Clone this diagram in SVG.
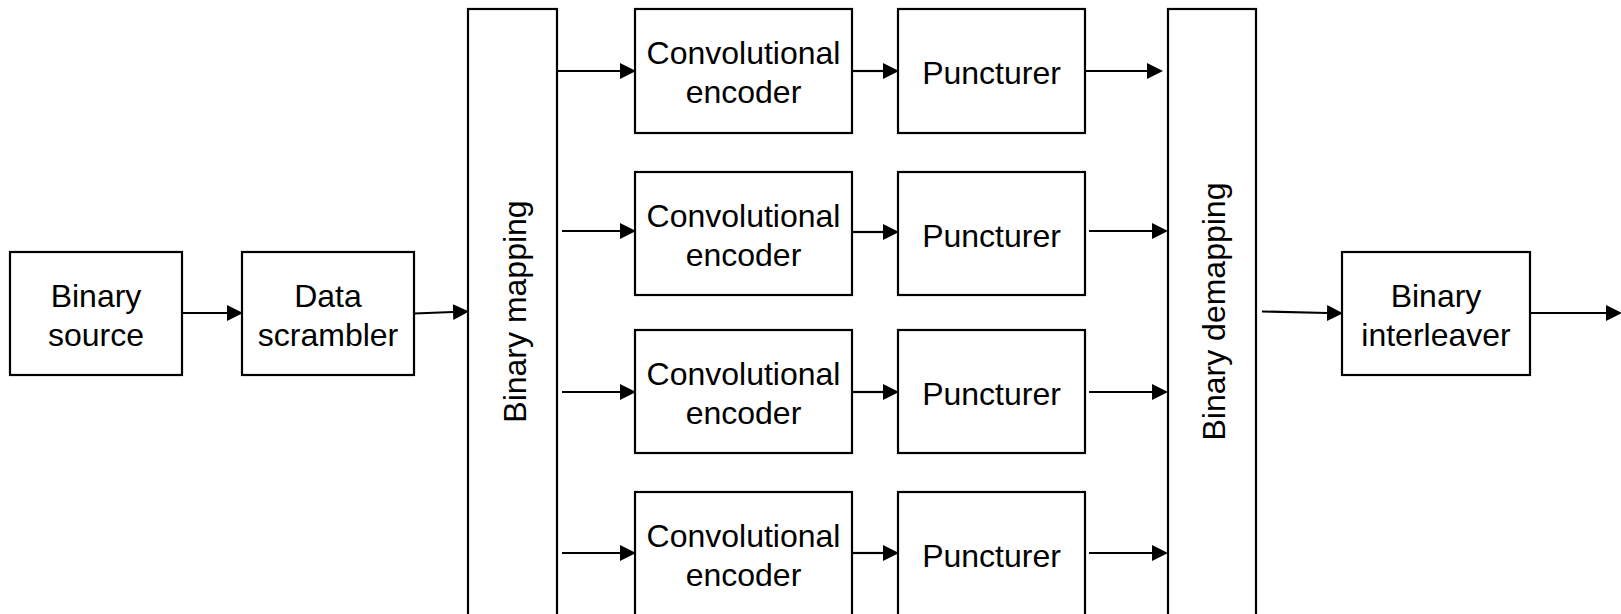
<svg xmlns="http://www.w3.org/2000/svg" width="1621" height="614" viewBox="0 0 1621 614">
<style>
.box{fill:#fff;stroke:#000;stroke-width:2.2}
.lbl{font-family:"Liberation Sans",Arial,sans-serif;font-size:32px;fill:#000;text-anchor:middle}
.cn{stroke:#000;stroke-width:2.2;fill:none;marker-end:url(#ah)}
</style>
<defs>
<marker id="ah" markerUnits="userSpaceOnUse" markerWidth="16" markerHeight="16" refX="0" refY="7.5" orient="auto" viewBox="0 0 15 15">
<path d="M0,0 L15,7.5 L0,15 Z" fill="#000"/>
</marker>
</defs>
<rect width="1621" height="614" fill="#fff"/>
<g id="binary-source"><rect class="box" x="10" y="252" width="172" height="123"/><text class="lbl" x="96" y="307">Binary</text><text class="lbl" x="96" y="346">source</text></g>
<g id="data-scrambler"><rect class="box" x="242" y="252" width="172" height="123"/><text class="lbl" x="328" y="307">Data</text><text class="lbl" x="328" y="346">scrambler</text></g>
<g id="binary-mapping"><rect class="box" x="468" y="9" width="89" height="620"/><text class="lbl" transform="translate(526,311.5) rotate(-90)" x="0" y="0">Binary mapping</text></g>
<g id="conv-encoder-1"><rect class="box" x="635" y="9" width="217" height="124"/><text class="lbl" x="743.5" y="64">Convolutional</text><text class="lbl" x="743.5" y="103">encoder</text></g>
<g id="conv-encoder-2"><rect class="box" x="635" y="172" width="217" height="123"/><text class="lbl" x="743.5" y="227">Convolutional</text><text class="lbl" x="743.5" y="266">encoder</text></g>
<g id="conv-encoder-3"><rect class="box" x="635" y="330" width="217" height="123"/><text class="lbl" x="743.5" y="385">Convolutional</text><text class="lbl" x="743.5" y="424">encoder</text></g>
<g id="conv-encoder-4"><rect class="box" x="635" y="492" width="217" height="140"/><text class="lbl" x="743.5" y="547">Convolutional</text><text class="lbl" x="743.5" y="586">encoder</text></g>
<g id="puncturer-1"><rect class="box" x="898" y="9" width="187" height="124"/><text class="lbl" x="991.5" y="84">Puncturer</text></g>
<g id="puncturer-2"><rect class="box" x="898" y="172" width="187" height="123"/><text class="lbl" x="991.5" y="247">Puncturer</text></g>
<g id="puncturer-3"><rect class="box" x="898" y="330" width="187" height="123"/><text class="lbl" x="991.5" y="405">Puncturer</text></g>
<g id="puncturer-4"><rect class="box" x="898" y="492" width="187" height="140"/><text class="lbl" x="991.5" y="567">Puncturer</text></g>
<g id="binary-demapping"><rect class="box" x="1168" y="9" width="88" height="620"/><text class="lbl" transform="translate(1225,311.5) rotate(-90)" x="0" y="0">Binary demapping</text></g>
<g id="binary-interleaver"><rect class="box" x="1342" y="252" width="188" height="123"/><text class="lbl" x="1436" y="307">Binary</text><text class="lbl" x="1436" y="346">interleaver</text></g>
<g id="connectors">
<line class="cn" x1="182" y1="313" x2="227" y2="313"/>
<line class="cn" x1="414" y1="313.5" x2="453" y2="312"/>
<line class="cn" x1="557" y1="71" x2="620" y2="71"/>
<line class="cn" x1="562" y1="231" x2="620" y2="231"/>
<line class="cn" x1="562" y1="392" x2="620" y2="392"/>
<line class="cn" x1="562" y1="553" x2="620" y2="553"/>
<line class="cn" x1="852" y1="71" x2="883" y2="71"/>
<line class="cn" x1="852" y1="232" x2="883" y2="232"/>
<line class="cn" x1="852" y1="392" x2="883" y2="392"/>
<line class="cn" x1="852" y1="553" x2="883" y2="553"/>
<line class="cn" x1="1085" y1="71" x2="1147" y2="71"/>
<line class="cn" x1="1089" y1="231" x2="1152" y2="231"/>
<line class="cn" x1="1089" y1="392" x2="1152" y2="392"/>
<line class="cn" x1="1089" y1="553" x2="1152" y2="553"/>
<line class="cn" x1="1262" y1="311.5" x2="1327" y2="313"/>
<line class="cn" x1="1530" y1="313" x2="1606" y2="313"/>
</g>
</svg>
